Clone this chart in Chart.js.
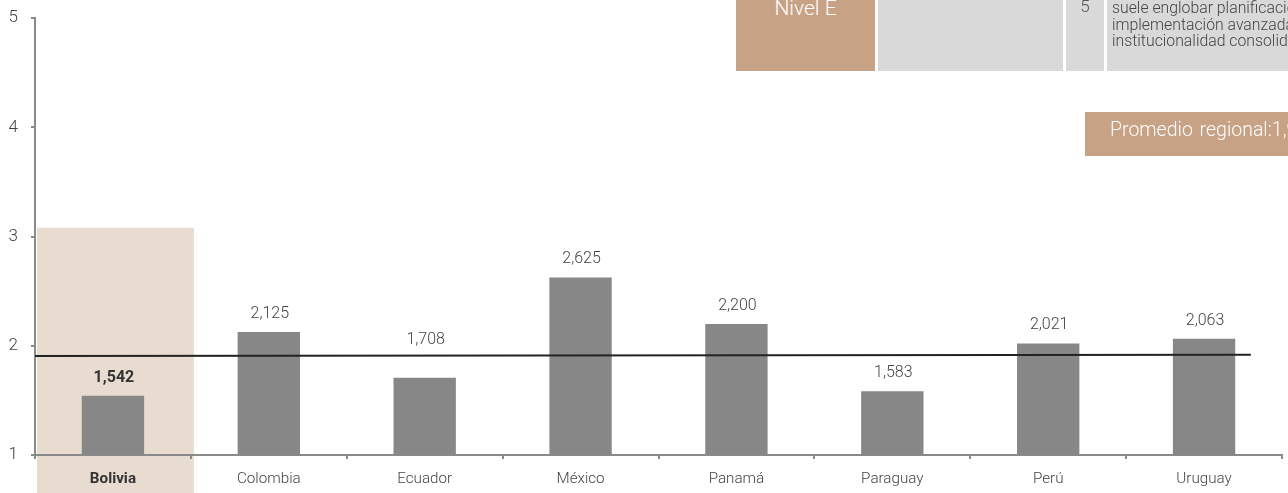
<!DOCTYPE html>
<html>
<head>
<meta charset="utf-8">
<script src="https://cdn.jsdelivr.net/npm/chart.js@4/dist/chart.umd.min.js"></script>
<style>
  body { margin: 0; background: #fff; font-family: Roboto, sans-serif; }
  #wrap { position: relative; width: 1288px; height: 493px; overflow: hidden; }
  #chart { position: absolute; left: 0; top: 0; }
  .box { position: absolute; overflow: hidden; white-space: nowrap; }
  .nivel { left: 736px; top: 0; width: 139px; height: 71px; background: #c8a285; color: #fff;
           font-weight: 300; font-size: 21px; text-align: center; line-height: 16px; }
  .gris { background: #d9d9d9; top: 0; height: 71px; }
  .num { left: 1066px; width: 38px; color: #555; font-weight: 300; font-size: 17px; text-align: center; line-height: 12px; }
  .desc { left: 1107px; width: 200px; color: #444; font-weight: 300; font-size: 15.8px; line-height: 16.5px; padding-left: 5px; }
  .prom { left: 1085px; top: 112px; width: 220px; height: 44px; background: #c8a285; color: #fff;
          font-weight: 300; font-size: 19.5px; line-height: 36px; padding-left: 25px; word-spacing: 2px; }
</style>
</head>
<body>
<div id="wrap">
  <canvas id="chart" width="1288" height="493"></canvas>
  <div class="box nivel">Nivel E</div>
  <div class="box gris" style="left:878px;width:185px"></div>
  <div class="box gris num">5</div>
  <div class="box gris desc">suele englobar planificación<br>implementación avanzada<br>institucionalidad consolidada</div>
  <div class="box prom">Promedio regional:1,9</div>
</div>
<script>
// índice por país
const paises = ["Bolivia", "Colombia", "Ecuador", "México", "Panamá", "Paraguay", "Perú", "Uruguay"];
const valores = [1.542, 2.125, 1.708, 2.625, 2.200, 1.583, 2.021, 2.063];
const yTicks = [1, 2, 3, 4, 5];

// línea de promedio regional (extremos sobre el eje x)
const promedioX = [0, 7.8];
const promedioY = [1.906, 1.918];

const destacado = 0;          // Bolivia
const destacadoTope = 3.08;

const fmt = v => v.toFixed(3).replace(".", ",");

function promedioEn(xv) {
  const t = (xv - promedioX[0]) / (promedioX[1] - promedioX[0]);
  return promedioY[0] + t * (promedioY[1] - promedioY[0]);
}

// franja de fondo detrás de Bolivia
const fondoPlugin = {
  id: "fondo",
  beforeDraw(chart) {
    const { ctx, scales: { x, y } } = chart;
    const half = (x.getPixelForValue(1) - x.getPixelForValue(0)) / 2;
    const cx = x.getPixelForValue(destacado);
    const top = y.getPixelForValue(destacadoTope);
    ctx.save();
    ctx.fillStyle = "#e8dbd0";
    ctx.fillRect(cx - half + 2, top, half * 2 + 1, chart.height - top);
    ctx.restore();
  }
};

// etiquetas de valor sobre cada barra
const etiquetasPlugin = {
  id: "etiquetas",
  afterDatasetsDraw(chart) {
    const { ctx, scales: { y, xl } } = chart;
    const meta = chart.getDatasetMeta(0);
    ctx.save();
    ctx.textAlign = "center";
    ctx.textBaseline = "middle";
    meta.data.forEach((bar, i) => {
      let cy = bar.y - 18;
      const lineY = y.getPixelForValue(promedioEn(xl.getValueForPixel(bar.x)));
      if (cy - 8 < lineY + 2 && cy + 8 > lineY - 2) cy = lineY - 16;
      ctx.font = (i === destacado ? "bold " : "300 ") + "16px Roboto";
      ctx.fillStyle = i === destacado ? "#333" : "#444";
      ctx.fillText(fmt(valores[i]), bar.x + 1, cy);
    });
    ctx.restore();
  }
};

new Chart(document.getElementById("chart"), {
  data: {
    labels: paises,
    datasets: [
      {
        type: "bar",
        data: valores,
        backgroundColor: "#878787",
        categoryPercentage: 1,
        barPercentage: 0.4,
        grouped: false,
        xAxisID: "x",
        order: 2
      },
      {
        type: "line",
        data: promedioX.map((xv, i) => ({ x: xv, y: promedioY[i] })),
        borderColor: "#222",
        borderWidth: 2,
        pointRadius: 0,
        xAxisID: "xl",
        order: 1
      }
    ]
  },
  options: {
    responsive: false,
    animation: false,
    layout: { padding: { top: 18, right: 6, left: 0, bottom: 0 } },
    plugins: { legend: { display: false }, tooltip: { enabled: false } },
    scales: {
      x: {
        type: "category",
        border: { color: "#8a8a8a", width: 2 },
        grid: { offset: true, drawOnChartArea: false, tickLength: 4, color: "#8a8a8a", lineWidth: 2 },
        ticks: {
          padding: 11,
          color: ctx => ctx.index === destacado ? "#333" : "#444",
          font: ctx => ({ family: "Roboto", size: 15.2, weight: ctx.index === destacado ? "bold" : "300" })
        },
        afterFit: s => { s.height = 38; }
      },
      xl: {
        type: "linear",
        display: false,
        min: 0,
        max: paises.length
      },
      y: {
        min: yTicks[0],
        max: yTicks[yTicks.length - 1],
        border: { color: "#8a8a8a", width: 2 },
        grid: { drawOnChartArea: false, tickLength: 4, color: "#8a8a8a", lineWidth: 2 },
        ticks: {
          stepSize: 1,
          padding: 13,
          color: "#444",
          font: { family: "Roboto", size: 17, weight: "300" },
          callback: v => yTicks.includes(v) ? String(v) : ""
        },
        afterFit: s => { s.width = 35; s.paddingTop = 0; s.paddingBottom = 0; }
      }
    }
  },
  plugins: [fondoPlugin, etiquetasPlugin]
});
</script>
</body>
</html>
